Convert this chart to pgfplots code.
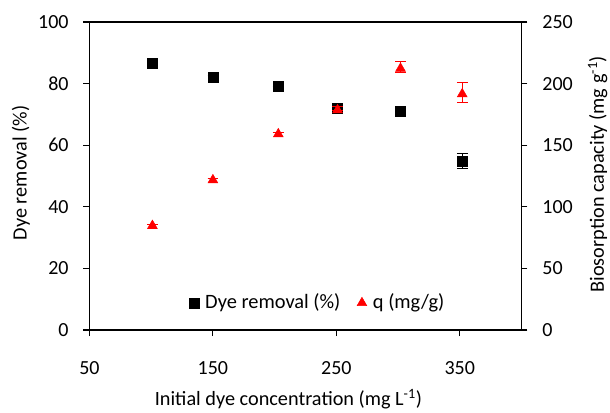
\documentclass[border=0pt]{standalone}
\usepackage{fontspec}
\setmainfont{Carlito}
\usepackage{pgfplots}
\pgfplotsset{compat=1.18}
\pgfplotstableread{
x y e
101 86.5 0.0
150 81.9 0.8
203 79.2 0.0
251 71.9 0.0
302 70.9 0.8
352 54.9 2.4
}\dyetable
\pgfplotstableread{
x y e
101 85.8 0.0
150 122.9 0.0
203 160.2 0.0
251 179.7 1.5
302 213.4 4.5
352 192.7 8.1
}\qtable
\begin{document}
\fontsize{15}{18}\selectfont
\begin{tikzpicture}
\pgfplotsset{
  every axis/.append style={
    scale only axis, width=324pt, height=231pt,
    xmin=50, xmax=400,
    tick align=outside, major tick length=4.5pt,
    /pgf/number format/assume math mode=true,
    tick label style={font=\fontsize{15}{18}\selectfont},
    label style={font=\fontsize{15.2}{18}\selectfont},
    axis line style={line width=0.8pt},
    tick style={line width=0.8pt, black},
  }
}
\begin{axis}[
  name=ax,
  ymin=0, ymax=100,
  xtick={50,150,250,350}, ytick={0,20,...,100},
  xtick pos=bottom, ytick pos=left,
  xticklabel style={anchor=base, yshift=-29pt},
  yticklabel style={anchor=east, xshift=-6pt},
  xlabel={Initial dye concentration (mg L\textsuperscript{-1})},
  xlabel style={at={(axis description cs:0.4606,-0.245)}, anchor=base},
  ylabel={Dye removal (\%)},
  ylabel style={at={(axis description cs:-0.1586,0.51)}, anchor=center},
  legend cell align=left,
  legend style={draw=none, fill=none, inner sep=0pt,
    nodes={inner sep=0pt},
    at={(axis description cs:0.2303,0.088)}, anchor=west,
    legend columns=2, font=\fontsize{15.3}{18}\selectfont,
    /tikz/every even column/.append style={column sep=12.4pt}},
  legend image code/.code={\draw[#1] plot coordinates {(3.75pt,0pt)};
     \path[draw=none] (0pt,0pt) (12pt,0pt);},
]
\addplot[only marks, mark=square*, black, mark size=3.75pt,
  error bars/.cd, y dir=both, y explicit,
  error bar style={black, line width=0.8pt},
  error mark options={rotate=90, mark size=4pt, black, line width=0.8pt}]
  table[x=x, y=y, y error=e] {\dyetable};
\addlegendentry{Dye removal (\%)}
\addlegendimage{only marks, mark=triangle*, red, mark size=4.2pt}
\addlegendentry{q (mg/g)}
\end{axis}
\begin{axis}[
  ymin=0, ymax=250,
  axis x line=none, axis y line*=right,
  ytick={0,50,...,250},
  yticklabel style={anchor=west, xshift=6pt},
  ylabel={Biosorption capacity (mg g\textsuperscript{-1})},
  ylabel style={at={(axis description cs:1.191,0.506)}, anchor=base},
]
\addplot[only marks, mark=triangle*, red, mark size=4.2pt,
  mark options={yshift=-1.05pt},
  error bars/.cd, y dir=both, y explicit,
  error bar style={red, line width=0.8pt},
  error mark options={rotate=90, mark size=4pt, red, line width=0.8pt, yshift=0pt}]
  table[x=x, y=y, y error=e] {\qtable};
\end{axis}
\pgfresetboundingbox
\path ([xshift=-67.1pt,yshift=-61.5pt]ax.south west) rectangle ++(457.5pt,309pt);
\end{tikzpicture}
\end{document}
